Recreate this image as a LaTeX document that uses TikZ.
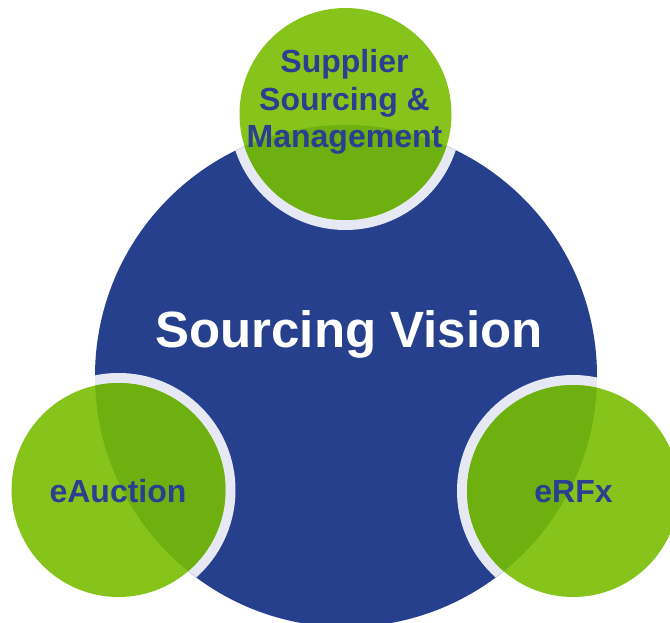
\documentclass[tikz,border=0pt]{standalone}
\usepackage{fontspec}
\setmainfont{Liberation Sans}
\definecolor{visionblue}{HTML}{26408E}
\definecolor{lightgreen}{HTML}{86C41B}
\definecolor{darkgreen}{HTML}{6FB011}
\definecolor{ringcol}{HTML}{E6E9F3}
\definecolor{labelblue}{HTML}{2A3F90}
\begin{document}
\begin{tikzpicture}[x=1pt,y=-1pt,
  bigcirc/.style={circle,inner sep=0pt,minimum size=502pt,fill=visionblue},
  greenlabel/.style={anchor=base,text=labelblue,font=\fontsize{32pt}{37.5pt}\selectfont\bfseries,align=center,inner sep=0pt},
  visionlabel/.style={anchor=base,text=white,font=\fontsize{51pt}{60pt}\selectfont\bfseries,inner sep=0pt}]
\useasboundingbox (0,0) rectangle (670,623);
\fill[white] (0,0) rectangle (670,623);
\clip (0,0) rectangle (670,623);
% main circle
\node[bigcirc] (vision) at (346,376) {};
% rings (visible only over blue)
\begin{scope}
  \clip (vision.center) circle (251pt);
  \fill[ringcol] (345.5,114) circle (116pt);
  \fill[ringcol] (118.5,490) circle (117pt);
  \fill[ringcol] (573,491) circle (116pt);
\end{scope}
% green circles
\node[circle,inner sep=0pt,minimum size=212pt,fill=lightgreen] (supp) at (345.5,114) {};
\node[circle,inner sep=0pt,minimum size=214pt,fill=lightgreen] (eauc) at (118.5,490) {};
\node[circle,inner sep=0pt,minimum size=212pt,fill=lightgreen] (erfx) at (573,491) {};
% darker overlap with blue
\begin{scope}
  \clip (vision.center) circle (251pt);
  \fill[darkgreen] (supp.center) circle (106pt);
  \fill[darkgreen] (eauc.center) circle (107pt);
  \fill[darkgreen] (erfx.center) circle (106pt);
\end{scope}
% labels
\node[visionlabel] (visiontext) at (349,347) {Sourcing Vision};
\node[greenlabel] (supptext) at (344.5,148) {Supplier\\Sourcing \&\\Management};
\node[greenlabel] (eauctext) at (118,502) {eAuction};
\node[greenlabel] (erfxtext) at (573.5,502) {eRFx};
\end{tikzpicture}
\end{document}
